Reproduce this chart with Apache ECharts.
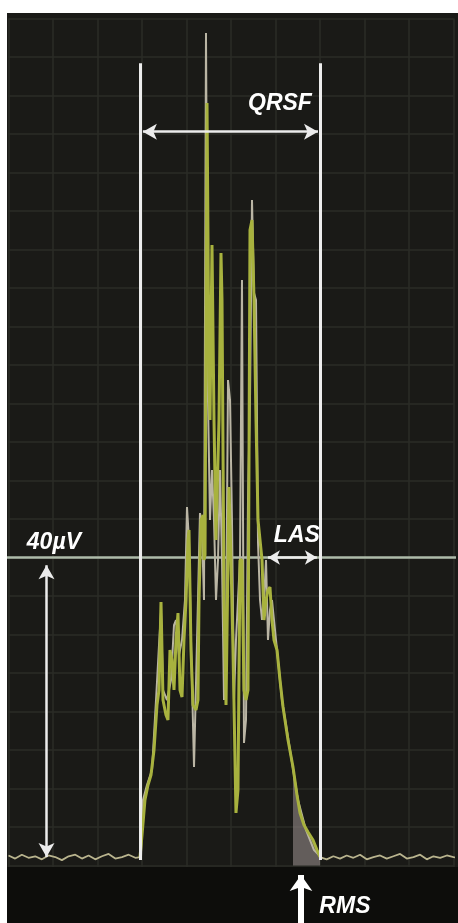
<!DOCTYPE html>
<html><head><meta charset="utf-8">
<script src="https://cdn.jsdelivr.net/npm/echarts/dist/echarts.min.js"></script>
<style>html,body{margin:0;padding:0;background:#fff}#c{width:458px;height:923px}</style>
</head><body><div id="c"></div><script>
// time in ms (grid = 10 ms), amplitude in µV (grid = 5 µV)
const leftBaseT = [0,1.5,3,4.5,6,7.5,9,10.5,12,13.5,15,16.5,18,19.5,21,22.5,24,25.5,27,28.5,29.6];
const leftBaseV = [1.3,0.9,1.4,1.0,1.2,0.8,1.3,1.1,0.7,1.2,1.4,0.9,1.3,0.8,1.2,1.5,0.9,1.1,1.4,1.0,1.1];
const rightBaseT = [70,71.5,73,74.5,76,77.5,79,80.5,82,83.5,85,86.5,88,89.5,91,92.5,94,95.5,97,98.5,100,101];
const rightBaseV = [1.1,0.8,1.2,0.9,1.3,1.0,1.4,0.8,1.1,1.3,0.9,1.2,1.5,0.9,1.1,1.4,0.8,1.2,1.0,1.3,1.1,1.0];
const greenT = [29.55,30.00,30.67,31.35,32.02,32.70,33.37,33.82,34.27,34.72,35.39,35.84,36.29,36.74,37.19,37.64,38.09,38.54,38.99,39.44,39.89,40.34,40.56,41.01,41.46,42.13,42.58,42.81,43.26,43.71,43.93,44.16,44.61,45.06,45.28,45.73,46.18,46.63,46.85,47.30,47.75,47.98,48.43,48.88,49.10,49.55,50.00,50.45,51.12,51.57,52.02,52.47,52.92,53.37,53.82,54.27,54.72,55.17,55.62,56.07,56.52,56.97,57.42,57.87,58.31,58.76,59.21,59.66,60.34,61.01,61.69,62.81,63.93,64.83,65.51,66.40,67.30,68.43,69.33,70.00];
const greenV = [1.10,3.96,8.51,10.45,11.75,15.00,20.84,22.79,34.22,21.49,19.55,18.90,27.99,26.69,22.79,29.29,32.79,22.79,21.88,29.29,34.48,42.27,43.57,27.99,20.84,20.19,21.49,34.48,44.87,45.52,39.68,40.32,99.03,63.05,57.86,80.58,57.86,42.27,42.27,57.86,79.55,73.44,34.48,20.84,20.84,49.16,39.68,27.99,6.82,9.81,39.68,39.68,22.79,21.49,22.79,82.53,83.83,73.44,57.86,44.87,42.27,39.68,31.88,34.48,35.78,36.17,31.88,29.29,27.99,24.09,20.58,16.30,12.79,9.16,6.82,5.26,4.35,3.31,2.01,1.10];
const grayT = [29.78,30.22,31.12,32.25,33.15,33.82,34.27,34.72,35.62,36.52,37.19,37.64,38.31,38.99,39.66,40.11,40.56,41.01,41.69,42.13,42.58,43.03,43.48,43.93,44.38,44.83,45.28,45.73,46.18,46.63,47.08,47.53,47.98,48.43,48.88,49.33,49.78,50.22,50.67,51.12,51.57,52.02,52.47,52.92,53.37,53.82,54.27,54.72,55.17,55.62,56.07,56.52,56.97,57.42,57.87,58.31,58.76,59.21,60.11,61.46,63.26,65.06,66.85,68.65,70.22];
const grayV = [1.10,8.51,10.45,12.40,21.49,28.64,32.92,22.79,21.49,24.09,31.23,31.88,27.34,29.29,34.48,46.56,42.27,29.29,12.79,12.79,34.48,45.78,43.57,34.48,108.12,60.45,44.87,51.36,44.87,34.48,39.68,51.36,39.68,21.49,29.29,63.05,60.45,44.87,21.49,29.29,34.48,39.68,76.04,15.91,18.90,47.47,60.45,86.43,74.35,73.44,41.88,34.48,31.88,34.48,39.68,29.29,33.18,34.48,29.29,21.49,15.00,8.51,4.61,2.01,1.10];
const rmsT = [63.93,64.83,65.51,66.40,67.30,68.43,69.33,70.00];
const rmsV = [12.79,9.16,6.82,5.26,4.35,3.31,2.01,1.10];
// annotations
const qrsOnset = 29.55, qrsOffset = 70.0;
const qrsLineBottom = 0.7, qrsLineTop = 104.2;
const qrsfArrow = {y:95.3, from:30.2, to:69.55};
const level40 = 40, levelSpan = [-0.34, 101];
const lasArrow = {from:58.3, to:69.3};
const uvArrow = {x:8.54, from:1.1, to:39.0};
const rmsArrow = {x:65.73, tail:-7.6, from:-5, to:-1.23};
const labels = [
  {text:'QRSF', t:61.0, v:98.9, dy:0},
  {text:'40µV', t:10.2, v:41.9, dy:0},
  {text:'LAS', t:64.8, v:42.9, dy:0},
  {text:'RMS', t:75.6, v:-5.0, dy:3}
];

const zip = (t,v)=>t.map((x,i)=>[x,v[i]]);
const chart = echarts.init(document.getElementById('c'));
const axisCommon = {type:'value', axisLine:{show:false}, axisTick:{show:false}, axisLabel:{show:false},
  splitLine:{show:true, lineStyle:{color:'#2b2d27', width:1.5}}};
const white = '#ececec';
function ann(name, lines, lineStyle){
  return {name, type:'line', data:[], clip:false, silent:true, z:5,
    markLine:{silent:true, animation:false, symbol:'none', label:{show:false}, lineStyle, data:lines}};
}
const option = {
  animation:false,
  backgroundColor:'#1a1a17',
  grid:{left:8.5, right:4.5, top:18.5, bottom:19},
  xAxis:Object.assign({min:0, max:100, interval:10}, axisCommon),
  yAxis:Object.assign({min:-5, max:110, interval:5}, axisCommon),
  graphic:[
    {type:'rect', z:1, shape:{x:7, y:867, width:451, height:56}, style:{fill:'#0d0d0b'}},
    {type:'rect', z:100, shape:{x:0, y:0, width:458, height:13}, style:{fill:'#ffffff'}},
    {type:'rect', z:100, shape:{x:0, y:0, width:7, height:923}, style:{fill:'#ffffff'}}
  ],
  series:[
    {name:'rms', type:'line', data:zip(rmsT,rmsV), symbol:'none', lineStyle:{width:0},
     areaStyle:{color:'rgba(150,140,138,0.85)', origin:0}, z:2},
    {name:'baseline', type:'line', data:zip(leftBaseT,leftBaseV).concat([[null,null]], zip(rightBaseT,rightBaseV)),
     symbol:'none', connectNulls:false, lineStyle:{color:'#b9b48e', width:1.8}, z:3},
    {name:'level', type:'line', data:levelSpan.map(x=>[x,level40]), clip:false, symbol:'none', silent:true,
     lineStyle:{color:'#aebbaa', width:2.5}, z:3},
    {name:'gray', type:'line', data:zip(grayT,grayV), symbol:'none', lineStyle:{color:'#bab5a4', width:2}, z:3},
    {name:'green', type:'line', data:zip(greenT,greenV), symbol:'none', lineStyle:{color:'#a8b23e', width:3}, z:4},
    ann('qrs', [
      [{coord:[qrsOnset,qrsLineBottom]},{coord:[qrsOnset,qrsLineTop]}],
      [{coord:[qrsOffset,qrsLineBottom]},{coord:[qrsOffset,qrsLineTop]}]
    ], {color:white, width:3, type:'solid'}),
    ann('arrows', [
      [{coord:[qrsfArrow.from,qrsfArrow.y], symbol:'arrow', symbolSize:[12,14]},{coord:[qrsfArrow.to,qrsfArrow.y], symbol:'arrow', symbolSize:[12,14]}],
      [{coord:[lasArrow.from,level40], symbol:'arrow', symbolSize:[11,12]},{coord:[lasArrow.to,level40], symbol:'arrow', symbolSize:[11,12]}],
      [{coord:[uvArrow.x,uvArrow.from], symbol:'arrow', symbolSize:[12,14]},{coord:[uvArrow.x,uvArrow.to], symbol:'arrow', symbolSize:[12,14]}]
    ], {color:white, width:2.5, type:'solid'}),
    ann('rmsArrow', [[{coord:[rmsArrow.x,rmsArrow.from]},{coord:[rmsArrow.x,rmsArrow.to], symbol:'arrow', symbolSize:[17,16]}]],
      {color:'#ffffff', width:6, type:'solid'}),
    {name:'rmsShaft', type:'line', data:[[rmsArrow.x,rmsArrow.tail],[rmsArrow.x,rmsArrow.from+1]], clip:false, symbol:'none', silent:true,
     lineStyle:{color:'#ffffff', width:6, cap:'butt'}, z:5},
    {name:'labels', type:'line', data:[], clip:false, silent:true, z:6,
     markPoint:{silent:true, animation:false, symbol:'circle', symbolSize:0,
       label:{show:true, position:'inside', color:'#ffffff', fontSize:23, fontStyle:'italic', fontWeight:'bold', fontFamily:'Liberation Sans, Arial, sans-serif'},
       data:labels.map(l=>({coord:[l.t,l.v], value:l.text, label:{formatter:l.text, offset:[0,l.dy]}}))}}
  ]
};
chart.setOption(option);
</script></body></html>
